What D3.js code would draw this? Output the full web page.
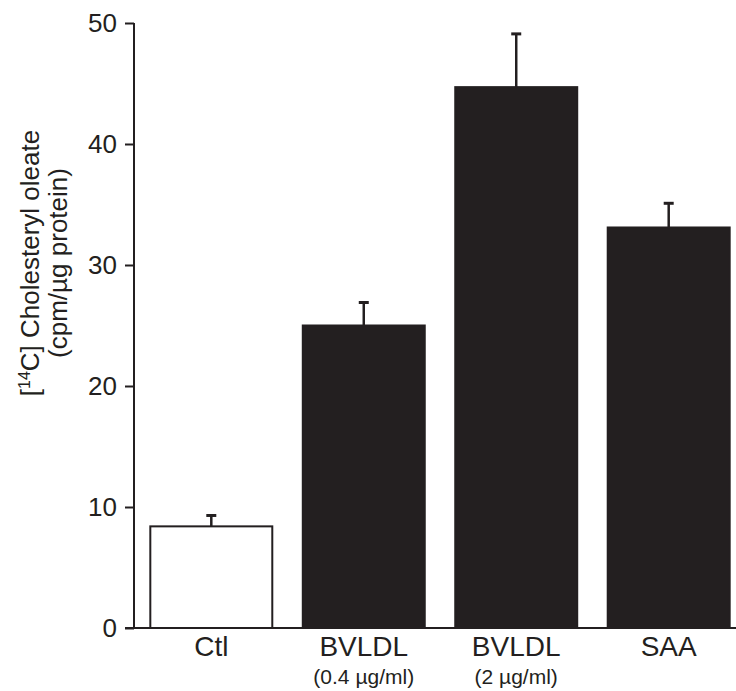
<!DOCTYPE html>
<html>
  <head>
    <meta charset="utf-8" />
    <script src="https://d3js.org/d3.v7.min.js"></script>
    <style>
      body { margin: 0; background: #fff; }
      text { font-family: "Liberation Sans", Arial, sans-serif; fill: #231f20; }
    </style>
  </head>
  <body>
    <svg id="chart" width="736" height="691"></svg>
    <script>
      const categories = ["Ctl", "BVLDL", "BVLDL", "SAA"];
      const subLabels = ["", "(0.4 µg/ml)", "(2 µg/ml)", ""];
      const values = [8.4, 25.0, 44.7, 33.1];
      const errors = [0.9, 1.9, 4.4, 2.0];
      const fills = ["#ffffff", "#231f20", "#231f20", "#231f20"];
      const yTicks = [0, 10, 20, 30, 40, 50];

      const svg = d3.select("svg#chart");
      const ink = "#231f20";

      const x = d3
        .scaleBand()
        .domain(d3.range(categories.length))
        .range([134, 746])
        .paddingInner(0.2)
        .paddingOuter(0.107);

      const y = d3.scaleLinear().domain([0, 50]).range([628, 23]);

      // y axis
      const yAxis = svg
        .append("g")
        .attr("transform", "translate(134,0)")
        .call(d3.axisLeft(y).tickValues(yTicks).tickSize(9).tickPadding(8));
      yAxis.select(".domain").attr("stroke", ink).attr("stroke-width", 2)
        .attr("d", `M0,${y(50)}V${y(0)}`);
      yAxis.selectAll(".tick line").attr("stroke", ink).attr("stroke-width", 2);
      yAxis.selectAll(".tick text")
        .attr("font-size", 26)
        .attr("font-family", "Liberation Sans, Arial, sans-serif")
        .attr("fill", ink);

      // baseline
      svg.append("line")
        .attr("x1", 125).attr("x2", 736)
        .attr("y1", y(0)).attr("y2", y(0))
        .attr("stroke", ink).attr("stroke-width", 2);

      // error bars
      const idx = d3.range(values.length);
      svg.selectAll("line.err")
        .data(idx)
        .join("line")
        .attr("class", "err")
        .attr("x1", (i) => x(i) + x.bandwidth() / 2)
        .attr("x2", (i) => x(i) + x.bandwidth() / 2)
        .attr("y1", (i) => y(values[i]))
        .attr("y2", (i) => y(values[i] + errors[i]))
        .attr("stroke", ink).attr("stroke-width", 2.5);
      svg.selectAll("line.cap")
        .data(idx)
        .join("line")
        .attr("class", "cap")
        .attr("x1", (i) => x(i) + x.bandwidth() / 2 - 5)
        .attr("x2", (i) => x(i) + x.bandwidth() / 2 + 5)
        .attr("y1", (i) => y(values[i] + errors[i]))
        .attr("y2", (i) => y(values[i] + errors[i]))
        .attr("stroke", ink).attr("stroke-width", 3);

      // bars
      svg.selectAll("rect.bar")
        .data(idx)
        .join("rect")
        .attr("class", "bar")
        .attr("x", (i) => x(i))
        .attr("y", (i) => y(values[i]))
        .attr("width", x.bandwidth())
        .attr("height", (i) => y(0) - y(values[i]))
        .attr("fill", (i) => fills[i])
        .attr("stroke", ink)
        .attr("stroke-width", 2);

      // category labels
      svg.selectAll("text.cat")
        .data(idx)
        .join("text")
        .attr("class", "cat")
        .attr("x", (i) => x(i) + x.bandwidth() / 2)
        .attr("y", 656)
        .attr("text-anchor", "middle")
        .attr("font-size", 28)
        .text((i) => categories[i]);
      svg.selectAll("text.sub")
        .data(idx)
        .join("text")
        .attr("class", "sub")
        .attr("x", (i) => x(i) + x.bandwidth() / 2)
        .attr("y", 684)
        .attr("text-anchor", "middle")
        .attr("font-size", 21)
        .text((i) => subLabels[i]);

      // y axis title
      const title = svg.append("text")
        .attr("transform", "translate(39,263) rotate(-90)")
        .attr("text-anchor", "middle")
        .attr("font-size", 26);
      title.append("tspan").text("[");
      title.append("tspan").attr("font-size", 16).attr("dy", -9).text("14");
      title.append("tspan").attr("dy", 9).text("C] Cholesteryl oleate");
      svg.append("text")
        .attr("transform", "translate(67,263) rotate(-90)")
        .attr("text-anchor", "middle")
        .attr("font-size", 26)
        .text("(cpm/µg protein)");
    </script>
  </body>
</html>
